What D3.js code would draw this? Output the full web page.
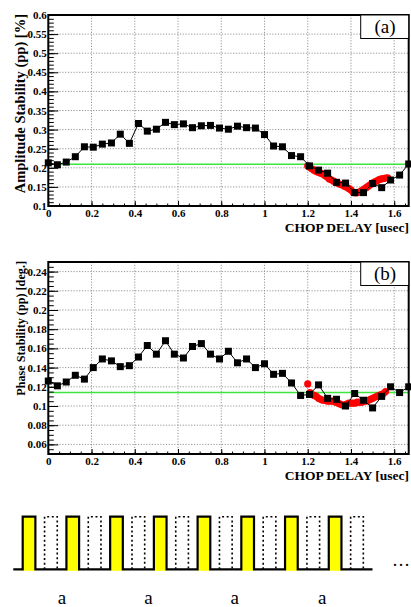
<!DOCTYPE html>
<html>
<head>
<meta charset="utf-8">
<script src="https://cdn.jsdelivr.net/npm/d3@7"></script>
<style>
  html, body { margin: 0; padding: 0; background: #fff; }
  svg { display: block; font-family: "Liberation Serif", "DejaVu Serif", serif; }
</style>
</head>
<body>
<div id="chart"></div>
<script>
const svgWidth = 411;
const svgHeight = 607;

// chop delay of the black scan points [usec]
const delay = [0.000, 0.042, 0.083, 0.125, 0.167, 0.208, 0.250, 0.292, 0.333, 0.375,
  0.417, 0.458, 0.500, 0.542, 0.583, 0.625, 0.667, 0.708, 0.750, 0.792,
  0.833, 0.875, 0.917, 0.958, 1.000, 1.042, 1.083, 1.125, 1.167, 1.208,
  1.250, 1.292, 1.333, 1.375, 1.417, 1.458, 1.500, 1.542, 1.583, 1.625, 1.667];

const ampSquares = [0.213, 0.208, 0.215, 0.229, 0.255, 0.254, 0.262, 0.265, 0.288, 0.264,
  0.316, 0.296, 0.301, 0.319, 0.313, 0.315, 0.305, 0.310, 0.311, 0.304,
  0.301, 0.309, 0.305, 0.304, 0.287, 0.257, 0.255, 0.232, 0.229, 0.205,
  0.194, 0.186, 0.162, 0.160, 0.135, 0.135, 0.159, 0.148, 0.168, 0.181, 0.210];

const phaseSquares = [0.126, 0.121, 0.125, 0.132, 0.128, 0.140, 0.149, 0.147, 0.141, 0.142,
  0.151, 0.163, 0.154, 0.168, 0.154, 0.150, 0.162, 0.165, 0.154, 0.149,
  0.157, 0.145, 0.149, 0.140, 0.144, 0.133, 0.134, 0.124, 0.111, 0.112,
  0.122, 0.108, 0.107, 0.100, 0.113, 0.106, 0.098, 0.110, 0.120, 0.114, 0.120];

// fine scan (red)
const fineDelayAmp = [1.20, 1.21, 1.22, 1.23, 1.24, 1.25, 1.26, 1.27, 1.28, 1.29,
  1.30, 1.31, 1.32, 1.33, 1.34, 1.35, 1.36, 1.37, 1.38, 1.39,
  1.40, 1.41, 1.42, 1.43, 1.44, 1.45, 1.46, 1.47, 1.48, 1.49,
  1.50, 1.51, 1.52, 1.53, 1.54, 1.55, 1.56, 1.57];
const ampFine = [0.205, 0.201, 0.197, 0.193, 0.190, 0.188, 0.186, 0.184, 0.180, 0.176,
  0.171, 0.168, 0.165, 0.162, 0.159, 0.157, 0.155, 0.152, 0.149, 0.146,
  0.142, 0.136, 0.134, 0.135, 0.137, 0.140, 0.144, 0.148, 0.152, 0.156,
  0.160, 0.163, 0.166, 0.169, 0.171, 0.172, 0.173, 0.174];

const fineDelayPhase = [1.20, 1.21, 1.22, 1.23, 1.24, 1.25, 1.26, 1.27, 1.28, 1.29,
  1.30, 1.31, 1.32, 1.33, 1.34, 1.35, 1.36, 1.37, 1.38, 1.39,
  1.40, 1.41, 1.42, 1.43, 1.44, 1.45, 1.46, 1.47, 1.48, 1.49,
  1.50, 1.51, 1.52, 1.53, 1.54, 1.55, 1.56];
const phaseFine = [0.123, 0.114, 0.112, 0.111, 0.110, 0.108, 0.107, 0.106, 0.106, 0.105,
  0.105, 0.105, 0.105, 0.104, 0.103, 0.102, 0.101, 0.101, 0.102, 0.103,
  0.103, 0.103, 0.103, 0.104, 0.104, 0.104, 0.105, 0.105, 0.106, 0.107,
  0.108, 0.109, 0.110, 0.111, 0.112, 0.113, 0.115];

// green reference levels
const ampReference = [0.209];
const phaseReference = [0.114];

// tick labels
const delayTicks = [0, 0.2, 0.4, 0.6, 0.8, 1, 1.2, 1.4, 1.6];
const ampTicks = [0.1, 0.15, 0.2, 0.25, 0.3, 0.35, 0.4, 0.45, 0.5, 0.55, 0.6];
const phaseTicks = [0.06, 0.08, 0.1, 0.12, 0.14, 0.16, 0.18, 0.2, 0.22, 0.24];

// pulse train sketch
const pulseKinds = ["on", "off", "on", "off", "on", "off", "on", "off",
  "on", "off", "on", "off", "on", "off", "on", "off"];
const pulseLabelSlots = [1.8, 5.75, 9.7, 13.7];
const pulseLabels = ["a", "a", "a", "a"];

const svg = d3.select("#chart")
  .append("svg")
  .attr("width", svgWidth)
  .attr("height", svgHeight);

const fmt = v => String(+v.toFixed(3));

function drawPanel(cfg) {
  const x = d3.scaleLinear().domain([0, 1.667]).range([48.3, 408.7]);
  const y = d3.scaleLinear().domain(cfg.yDomain).range([cfg.bottom, cfg.top]);
  const g = svg.append("g");

  // dotted grid
  g.append("g").selectAll("line")
    .data(delayTicks.filter(d => d > 0))
    .join("line")
    .attr("x1", d => x(d)).attr("x2", d => x(d))
    .attr("y1", cfg.top).attr("y2", cfg.bottom)
    .attr("stroke", "#8a8a8a").attr("stroke-width", 0.9)
    .attr("stroke-dasharray", "1.2,1.6");
  g.append("g").selectAll("line")
    .data(cfg.yTicks)
    .join("line")
    .attr("x1", x.range()[0]).attr("x2", x.range()[1])
    .attr("y1", d => y(d)).attr("y2", d => y(d))
    .attr("stroke", "#8a8a8a").attr("stroke-width", 0.9)
    .attr("stroke-dasharray", "1.2,1.6");

  // reference line
  g.append("line")
    .attr("x1", x.range()[0]).attr("x2", x.range()[1])
    .attr("y1", y(cfg.ref[0])).attr("y2", y(cfg.ref[0]))
    .attr("stroke", "#3de63d").attr("stroke-width", 1.5);

  // fine scan (red)
  g.append("g").selectAll("circle")
    .data(cfg.fineX)
    .join("circle")
    .attr("cx", d => x(d))
    .attr("cy", (d, i) => y(cfg.fineY[i]))
    .attr("r", 3.6)
    .attr("fill", "#ff0000");

  // coarse scan (black)
  const line = d3.line().x((d, i) => x(delay[i])).y(d => y(d));
  g.append("path")
    .attr("d", line(cfg.squares))
    .attr("fill", "none")
    .attr("stroke", "#000")
    .attr("stroke-width", 1);
  g.append("g").selectAll("rect")
    .data(cfg.squares)
    .join("rect")
    .attr("x", (d, i) => x(delay[i]) - 3.5)
    .attr("y", d => y(d) - 3.5)
    .attr("width", 7).attr("height", 7)
    .attr("fill", "#000");

  // axes
  const xAxis = g.append("g")
    .attr("transform", `translate(0, ${cfg.bottom})`)
    .call(d3.axisBottom(x).tickValues(delayTicks).tickSize(-5).tickPadding(3).tickFormat(fmt));
  g.append("g")
    .attr("transform", `translate(0, ${cfg.bottom})`)
    .call(d3.axisBottom(x).tickValues(d3.range(0.05, 1.667, 0.05)).tickSize(-2.5).tickFormat(""));
  const yAxis = g.append("g")
    .attr("transform", `translate(${x.range()[0]}, 0)`)
    .call(d3.axisLeft(y).tickValues(cfg.yTicks).tickSize(-10).tickPadding(1.5).tickFormat(fmt));
  g.append("g")
    .attr("transform", `translate(${x.range()[0]}, 0)`)
    .call(d3.axisLeft(y).tickValues(d3.range(cfg.yDomain[0], cfg.yDomain[1] + 1e-9, cfg.minor)).tickSize(-5.5).tickFormat(""));

  g.selectAll(".domain").remove();
  g.selectAll(".tick line").attr("stroke", "#000").attr("stroke-width", 1);
  g.selectAll(".tick text")
    .attr("font-family", "Liberation Serif")
    .attr("font-weight", "bold")
    .attr("font-size", 11)
    .attr("fill", "#000");

  // frame
  g.append("rect")
    .attr("x", x.range()[0]).attr("y", cfg.top)
    .attr("width", x.range()[1] - x.range()[0])
    .attr("height", cfg.bottom - cfg.top)
    .attr("fill", "none").attr("stroke", "#000").attr("stroke-width", 2);

  // titles
  g.append("text")
    .attr("x", 409).attr("y", cfg.bottom + 25.5)
    .attr("text-anchor", "end")
    .attr("font-weight", "bold").attr("font-size", 13.5)
    .text("CHOP DELAY [usec]");
  g.append("text")
    .attr("transform", `translate(${cfg.yTitleX}, ${cfg.top - 1}) rotate(-90)`)
    .attr("text-anchor", "end")
    .attr("font-weight", "bold").attr("font-size", cfg.yTitleSize)
    .text(cfg.yTitle);

  // panel tag
  g.append("rect")
    .attr("x", 360.7).attr("y", cfg.top)
    .attr("width", 48).attr("height", 23.5)
    .attr("fill", "#fff").attr("stroke", "#000").attr("stroke-width", 1);
  g.append("text")
    .attr("x", 385).attr("y", cfg.top + 18)
    .attr("text-anchor", "middle")
    .attr("font-size", 19)
    .text(cfg.tag);
}

drawPanel({
  top: 15, bottom: 206, yDomain: [0.1, 0.6], yTicks: ampTicks, minor: 0.01,
  squares: ampSquares, fineX: fineDelayAmp, fineY: ampFine, ref: ampReference,
  yTitle: "Amplitude Stability (pp) [%]", yTitleX: 25, yTitleSize: 14.5, tag: "(a)"
});

drawPanel({
  top: 262, bottom: 454, yDomain: [0.05, 0.25], yTicks: phaseTicks, minor: 0.005,
  squares: phaseSquares, fineX: fineDelayPhase, fineY: phaseFine, ref: phaseReference,
  yTitle: "Phase Stability (pp) [deg.]", yTitleX: 24.5, yTitleSize: 12.2, tag: "(b)"
});

// pulse train sketch
const slot = d3.scaleLinear().domain([0, 16]).range([22.7, 372.5]);
const level = d3.scaleLinear().domain([0, 1]).range([569.3, 516.7]);
const pw = slot(0.58) - slot(0);
const pulses = pulseKinds.map((k, i) => ({ kind: k, i }));
const sketch = svg.append("g");

sketch.selectAll("rect.on")
  .data(pulses.filter(p => p.kind === "on"))
  .join("rect")
  .attr("class", "on")
  .attr("x", d => slot(d.i))
  .attr("y", level(1))
  .attr("width", pw)
  .attr("height", level(0) - level(1) + 1.5)
  .attr("fill", "#ffff00");

let wave = `M13.3,${level(0)}`;
pulses.filter(p => p.kind === "on").forEach(p => {
  wave += `H${slot(p.i)}V${level(1)}H${slot(p.i) + pw}V${level(0)}`;
});
wave += `H${slot(16)}`;
sketch.append("path")
  .attr("d", wave)
  .attr("fill", "none")
  .attr("stroke", "#000")
  .attr("stroke-width", 2.2);

sketch.selectAll("path.off")
  .data(pulses.filter(p => p.kind === "off"))
  .join("path")
  .attr("class", "off")
  .attr("d", d => `M${slot(d.i)},${level(0)}V${level(1)}H${slot(d.i) + pw}V${level(0)}`)
  .attr("fill", "none")
  .attr("stroke", "#000")
  .attr("stroke-width", 1.6)
  .attr("stroke-dasharray", "2,2.6");

sketch.append("text")
  .attr("x", 392).attr("y", 566)
  .attr("font-size", 18)
  .text("…");

sketch.selectAll("text.lab")
  .data(pulseLabelSlots)
  .join("text")
  .attr("class", "lab")
  .attr("x", d => slot(d))
  .attr("y", 604)
  .attr("text-anchor", "middle")
  .attr("font-size", 19)
  .text((d, i) => pulseLabels[i]);
</script>
</body>
</html>
